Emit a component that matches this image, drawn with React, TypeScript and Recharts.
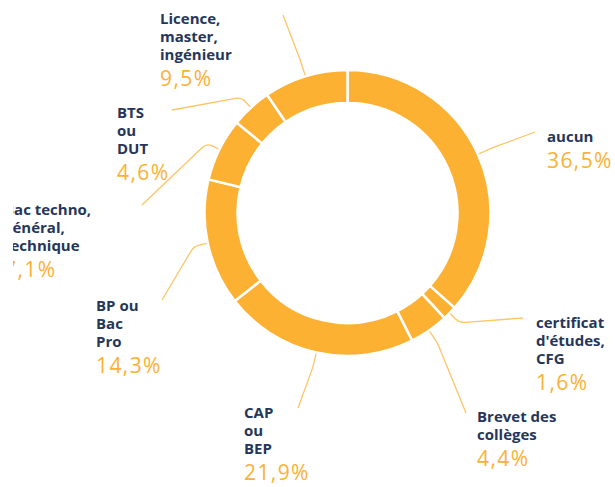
import { PieChart, Pie, Cell } from 'recharts';

const categories = [
  'aucun',
  'certificat',
  'brevet',
  'cap',
  'bp',
  'bac',
  'bts',
  'licence',
];

const values = [36.5, 1.6, 4.4, 21.9, 14.3, 7.1, 4.6, 9.5];

const labelLines = [
  ['aucun'],
  ['certificat', "d'études,", 'CFG'],
  ['Brevet des', 'collèges'],
  ['CAP', 'ou', 'BEP'],
  ['BP ou', 'Bac', 'Pro'],
  ['Bac techno,', 'général,', 'technique'],
  ['BTS', 'ou', 'DUT'],
  ['Licence,', 'master,', 'ingénieur'],
];

const data = categories.map((name, i) => ({ name, value: values[i], lines: labelLines[i] }));

// label placement (page pixels): text left, first baseline, end of leader line
const OX = 13;
const labelLayout = [
  { x: 547, y: 142, lx: 535, ly: 132 },
  { x: 536, y: 328, lx: 523, ly: 318 },
  { x: 477, y: 422, lx: 466, ly: 413 },
  { x: 244, y: 418, lx: 298, ly: 408 },
  { x: 96, y: 311, lx: 162, ly: 300 },
  { x: 4, y: 215, lx: 142, ly: 205 },
  { x: 117, y: 118, lx: 172, ly: 110 },
  { x: 160, y: 24, lx: 283, ly: 15 },
];

const ORANGE = '#fcb133';
const NAVY = '#26365a';
const RADIAN = Math.PI / 180;

const fmt = (v: number) => v.toFixed(1).replace('.', ',') + '%';

function renderLabel(props: any) {
  const { cx, cy, midAngle, outerRadius, index, value } = props;
  const lay = labelLayout[index];
  const cos = Math.cos(-midAngle * RADIAN);
  const sin = Math.sin(-midAngle * RADIAN);
  const sx = cx + (outerRadius + 1) * cos;
  const sy = cy + (outerRadius + 1) * sin;
  const ex = cx + (outerRadius + 14) * cos;
  const ey = cy + (outerRadius + 14) * sin;
  const tx = lay.lx - OX;
  const ty = lay.ly;
  const dx = tx - ex;
  const dy = ty - ey;
  const d = Math.sqrt(dx * dx + dy * dy) || 1;
  const k = 6;
  const ax = ex - k * cos;
  const ay = ey - k * sin;
  const bx = ex + (k * dx) / d;
  const by = ey + (k * dy) / d;
  const lines: string[] = data[index].lines;
  const x = lay.x - OX;
  return (
    <g>
      <path
        d={`M${sx},${sy} L${ax},${ay} Q${ex},${ey} ${bx},${by} L${tx},${ty}`}
        stroke="#fcc567"
        strokeWidth={1.3}
        fill="none"
      />
      {lines.map((t, i) => (
        <text
          key={i}
          x={x}
          y={lay.y + i * 18}
          fill={NAVY}
          fontSize={15}
          fontWeight={700}
          fontFamily="'Open Sans', sans-serif"
        >
          {t}
        </text>
      ))}
      <text
        x={x}
        y={lay.y + (lines.length - 1) * 18 + 26}
        fill={ORANGE}
        fontSize={21}
        fontWeight={500}
        letterSpacing={1.4}
        fontFamily="'Open Sans', sans-serif"
      >
        {fmt(value)}
      </text>
    </g>
  );
}

export default function App() {
  return (
    <div style={{ position: 'absolute', left: OX, top: 0, background: '#fff' }}>
      <PieChart
        width={615 - OX}
        height={487}
        margin={{ top: 0, right: 0, bottom: 0, left: 0 }}
      >
        <Pie
          data={data}
          dataKey="value"
          cx={347.5 - OX}
          cy={213}
          innerRadius={110}
          outerRadius={143}
          startAngle={90}
          endAngle={-270}
          stroke="#fff"
          strokeWidth={2.5}
          label={renderLabel}
          labelLine={false}
          isAnimationActive={false}
        >
          {data.map((d) => (
            <Cell key={d.name} fill={ORANGE} />
          ))}
        </Pie>
      </PieChart>
    </div>
  );
}
